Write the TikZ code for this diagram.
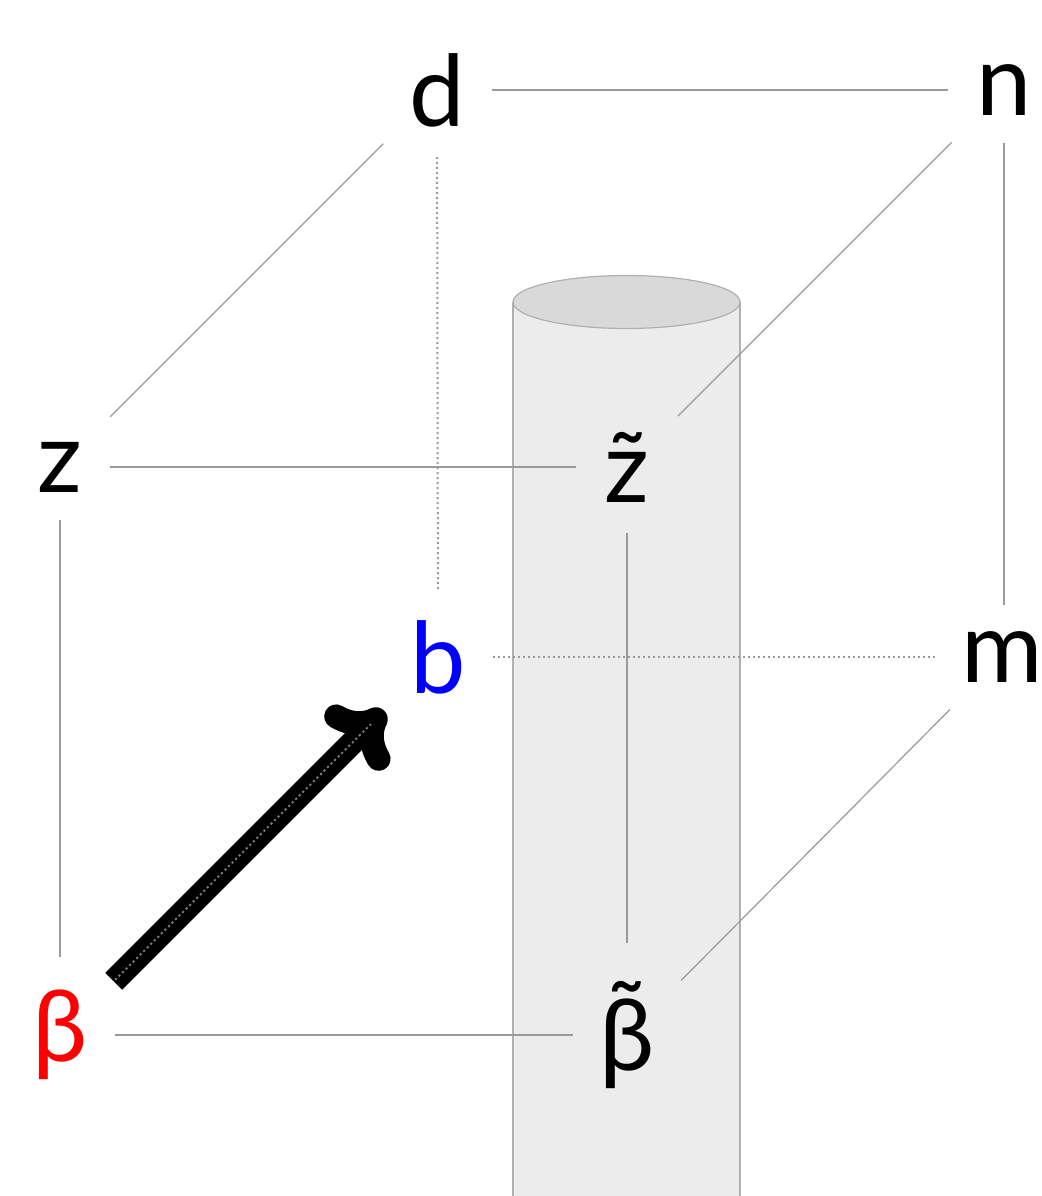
\documentclass[tikz,border=0pt]{standalone}
\usepackage{fontspec}
\setmainfont{Lato}
\usetikzlibrary{arrows.meta}
\definecolor{linegray}{HTML}{9A9A9A}
\definecolor{cylbody}{HTML}{ECECEC}
\definecolor{cyltop}{HTML}{D9D9D9}
\definecolor{cylline}{HTML}{B0B0B0}
\begin{document}
\begin{tikzpicture}[x=1pt,y=-1pt,
  lbl/.style={inner sep=0pt,font=\fontsize{99}{120}\selectfont},
  cubeline/.style={draw=linegray,line width=1.2pt},
  hidline/.style={draw=linegray,line width=2pt,dash pattern=on 2pt off 3pt},
  bigarrow/.style={line width=24pt,draw=black,
    -{Computer Modern Rightarrow[length=50pt,width=84pt,line width=24pt,round]}},
  shaftdots/.style={draw=gray,line width=2pt,dash pattern=on 2pt off 3pt}]
\useasboundingbox (0,0) rectangle (1041,1196);
% cylinder
\fill[cylbody] (513,302) rectangle (740,1200);
\draw[cylline,line width=1.5pt] (513,1200) -- (513,302);
\draw[cylline,line width=1.5pt] (740,1200) -- (740,302);
\draw[cylline,line width=1.2pt,fill=cyltop] (626.5,302) ellipse [x radius=113.5,y radius=26.5];
% vertices
\node[lbl] (d) at (437,90) {d};
\node[lbl] (n) at (1004,90) {n};
\node[lbl] (z) at (60,467) {z};
\node[lbl] (zt) at (627,467) {z̃};
\node[lbl,text={rgb,255:red,0;green,0;blue,255}] (b) at (438,657) {b};
\node[lbl] (m) at (1002,657) {m};
\node[lbl,text={rgb,255:red,255;green,0;blue,0}] (beta) at (60,1035) {β};
\node[lbl] (bt) at (627,1035) {β̃};
% cube edges
\path[cubeline,shorten <=55pt,shorten >=56pt] (d.center) -- (n.center);
\path[cubeline,shorten <=76pt,shorten >=71pt] (d.center) -- (z.center);
\path[cubeline,shorten <=74pt,shorten >=72pt] (n.center) -- (zt.center);
\path[cubeline,shorten <=53pt,shorten >=52pt] (n.center) -- (n.center |- m.center);
\path[cubeline,shorten <=50pt,shorten >=51pt] (z.center) -- (zt.center);
\path[cubeline,shorten <=53pt,shorten >=78pt] (z.center) -- (beta.center);
\path[cubeline,shorten <=66pt,shorten >=92pt] (zt.center) -- (bt.center);
\path[cubeline,shorten <=74pt,shorten >=77pt] (m.center) -- (bt.center);
\path[cubeline,shorten <=55pt,shorten >=54pt] (beta.center) -- (bt.center);
\path[hidline,shorten <=67pt,shorten >=67pt] (d.center) -- (b.center);
\path[hidline,shorten <=55pt,shorten >=65pt] (b.center) -- (m.center);
% arrow
\draw[bigarrow,shorten <=76pt,shorten >=76pt] (beta.center) -- (b.center);
\path[shaftdots,shorten <=78pt,shorten >=95pt] (beta.center) -- (b.center);
\end{tikzpicture}
\end{document}
